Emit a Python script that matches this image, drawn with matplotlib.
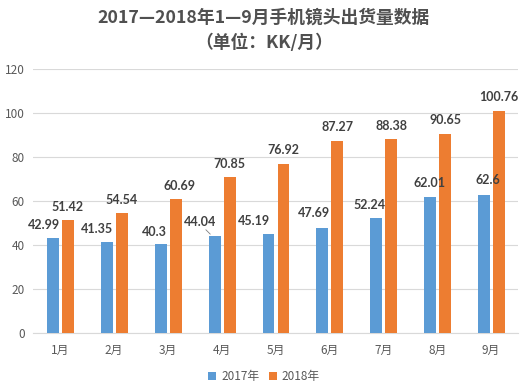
"""Monthly phone camera lens shipments, 2017 vs 2018 (Jan-Sep)."""

import matplotlib
matplotlib.use("Agg")
import matplotlib.pyplot as plt
import numpy as np

plt.rcParams["font.family"] = ["Noto Sans CJK SC", "DejaVu Sans"]

months = ["1月", "2月", "3月", "4月", "5月", "6月", "7月", "8月", "9月"]
ship_2017 = [42.99, 41.35, 40.3, 44.04, 45.19, 47.69, 52.24, 62.01, 62.6]
ship_2018 = [51.42, 54.54, 60.69, 70.85, 76.92, 87.27, 88.38, 90.65, 100.76]
series_names = ["2017年", "2018年"]

# label nudges in pixels (dx, dy above bar top), Excel-style placement
nudge_2017 = [(-9, 13), (-10, 13), (-6, 12), (-15, 14), (-15, 13), (-8, 15), (-7, 13), (-1, 14), (4, 15)]
nudge_2018 = [(0, 13), (0, 13), (4, 13), (0, 13), (0, 14), (0, 14), (0, 13), (0, 14), (0, 14)]

blue = "#5B9BD5"
orange = "#ED7D31"
label_col = "#404040"
tick_col = "#595959"

fig = plt.figure(figsize=(5.28, 3.92), dpi=100)
ax = fig.add_axes([0.0625, 0.1505, 0.9185, 0.6735])

x = np.arange(len(months))
w = 0.22
b1 = ax.bar(x - 0.13, ship_2017, w, color=blue, label=series_names[0], zorder=3)
b2 = ax.bar(x + 0.148, ship_2018, w, color=orange, label=series_names[1], zorder=3)

for bars, vals, nudges in [(b1, ship_2017, nudge_2017), (b2, ship_2018, nudge_2018)]:
    for i, (rect, v) in enumerate(zip(bars, vals)):
        dx, dy = nudges[i]
        cx = rect.get_x() + rect.get_width() / 2
        ax.annotate(f"{v:g}", (cx, v), xytext=(dx * 0.72, dy * 0.72), textcoords="offset points",
                    ha="center", va="center", fontsize=9, fontweight="bold",
                    color=label_col, family="Lato", zorder=4)

# leader line for the April 2017 label
r = b1[3]
ax.annotate("", (r.get_x() + r.get_width() * 0.3, ship_2017[3]), xytext=(-6, 6), textcoords="offset points",
            arrowprops=dict(arrowstyle="-", color="#7F7F7F", lw=0.6))

ax.set_xlim(-0.5, len(months) - 0.5)
ax.set_ylim(0, 120)
ax.set_yticks(np.arange(0, 121, 20))
ax.set_xticks(x)
ax.set_xticklabels(months)
ax.grid(axis="y", color="#D9D9D9", lw=0.8, zorder=0)
ax.tick_params(axis="both", length=0, colors=tick_col, labelsize=8.5)
ax.tick_params(axis="x", pad=8)
ax.tick_params(axis="y", pad=6)
for s in ["top", "right", "left"]:
    ax.spines[s].set_visible(False)
ax.spines["bottom"].set_color("#D9D9D9")

fig.text(0.5, 0.955, "2017—2018年1—9月手机镜头出货量数据", ha="center", va="center",
         fontsize=12.8, fontweight="heavy", color="#505050")
fig.text(0.5, 0.891, "（单位：KK/月）", ha="center", va="center",
         fontsize=12.8, fontweight="heavy", color="#505050")

fig.legend(loc="center", bbox_to_anchor=(0.5, 0.04), ncol=2, frameon=False,
           fontsize=8.5, handlelength=0.7, handleheight=0.7, handletextpad=0.4,
           columnspacing=0.8, labelcolor=tick_col)

fig.savefig("out.png", dpi=100)
